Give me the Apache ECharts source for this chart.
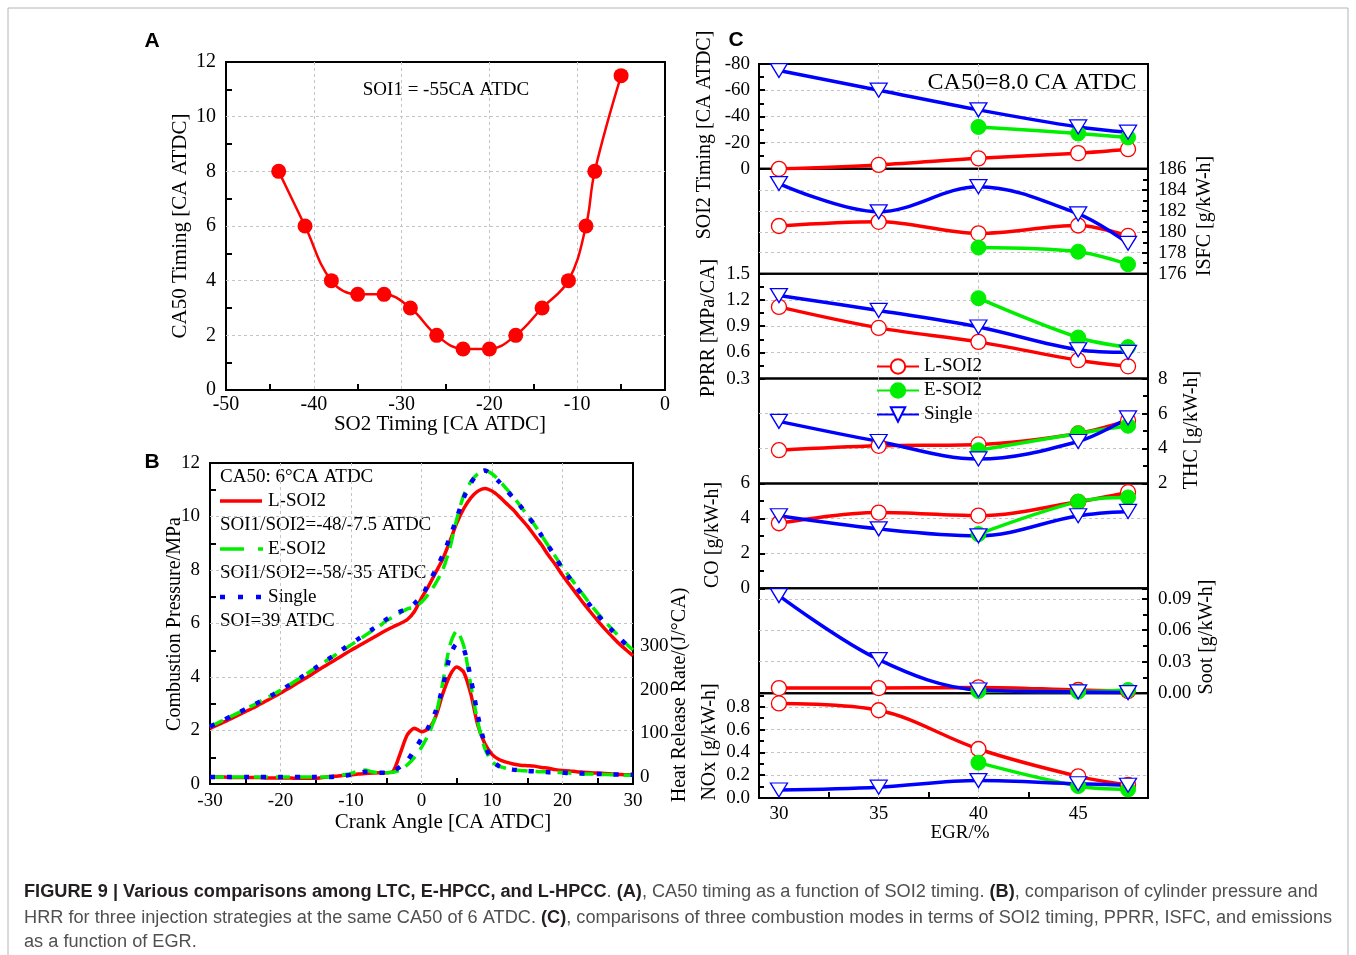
<!DOCTYPE html>
<html>
<head>
<meta charset="utf-8">
<script src="https://cdn.jsdelivr.net/npm/echarts@6.0.0/dist/echarts.min.js"></script>
<style>
  html, body { margin: 0; padding: 0; background: #fff; }
  #chart { width: 1356px; height: 955px; }
</style>
</head>
<body>
<div id="chart"></div>
<script>
// Fonts and colours used across the three panels
const SERIF = '"Liberation Serif", "Times New Roman", serif';
const SANS = '"Liberation Sans", Arial, Helvetica, sans-serif';
const RED = '#ff0000';
const GREEN = '#00ee00';
const BLUE = '#0000ff';

// ---- Panel A: CA50 timing vs SO2 timing
const so2Timing = [-44, -41, -38, -35, -32, -29, -26, -23, -20, -17, -14, -11, -9, -8, -5];
const ca50Timing = [8, 6, 4, 3.5, 3.5, 3, 2, 1.5, 1.5, 2, 3, 4, 6, 8, 11.5];

// ---- Panel B: cylinder pressure (MPa) and heat release rate (J/°CA), one value per °CA
const crankAngle = [
  -30, -29, -28, -27, -26, -25, -24, -23, -22, -21, -20, -19, -18, -17, -16, -15, -14, -13, -12, -11,
  -10, -9, -8, -7, -6, -5, -4, -3, -2, -1, 0, 1, 2, 3, 4, 5, 6, 7, 8, 9,
  10, 11, 12, 13, 14, 15, 16, 17, 18, 19, 20, 21, 22, 23, 24, 25, 26, 27, 28, 29, 30
];
const pressureL = [
  2.08, 2.2, 2.32, 2.44, 2.57, 2.7, 2.83, 2.97, 3.11, 3.25, 3.4, 3.55, 3.71, 3.87, 4.03, 4.2, 4.36, 4.52, 4.68, 4.84,
  5.0, 5.15, 5.3, 5.45, 5.6, 5.75, 5.88, 6.0, 6.15, 6.45, 6.95, 7.4, 7.9, 8.4, 9.05, 9.75, 10.3, 10.7, 10.95, 11.05,
  10.95, 10.75, 10.5, 10.25, 9.95, 9.65, 9.3, 8.95, 8.55, 8.2, 7.8, 7.45, 7.1, 6.75, 6.42, 6.1, 5.8, 5.52, 5.25, 5.02, 4.8
];
const pressureE = [
  2.15, 2.27, 2.4, 2.53, 2.66, 2.8, 2.93, 3.07, 3.21, 3.35, 3.5, 3.66, 3.83, 4.0, 4.17, 4.35, 4.52, 4.69, 4.86, 5.03,
  5.2, 5.37, 5.55, 5.73, 5.9, 6.1, 6.25, 6.4, 6.55, 6.62, 6.8, 7.1, 7.5, 8.0, 8.8, 9.9, 10.8, 11.3, 11.6, 11.72,
  11.6, 11.35, 11.05, 10.75, 10.4, 10.05, 9.7, 9.3, 8.9, 8.5, 8.1, 7.75, 7.4, 7.05, 6.7, 6.38, 6.08, 5.8, 5.52, 5.25, 5.0
];
const pressureS = [
  2.15, 2.27, 2.4, 2.53, 2.66, 2.8, 2.93, 3.07, 3.21, 3.35, 3.5, 3.66, 3.83, 4.0, 4.17, 4.35, 4.53, 4.71, 4.89, 5.07,
  5.25, 5.42, 5.6, 5.78, 5.95, 6.15, 6.3, 6.45, 6.55, 6.75, 7.0, 7.5, 8.0, 8.55, 9.2, 9.95, 10.7, 11.25, 11.6, 11.72,
  11.55, 11.3, 11.0, 10.7, 10.4, 10.05, 9.7, 9.3, 8.9, 8.48, 8.05, 7.7, 7.35, 7.0, 6.65, 6.32, 6.02, 5.75, 5.48, 5.22, 5.0
];
const hrrL = [
  0, 0, 0, -1, -1, -1, -1, -1, -2, -2, -2, -2, -3, -3, -3, -3, -1, 1, 2, 4,
  5, 7, 8, 9, 10, 10, 14, 55, 97, 112, 104, 111, 138, 190, 232, 252, 240, 190, 118, 76,
  52, 40, 34, 30, 27, 26, 25, 22, 20, 17, 15, 14, 12, 11, 10, 9, 8, 7, 6, 5, 5
];
const hrrE = [
  0, 0, 0, 0, 0, 0, 0, 0, 0, 0, 0, 0, 0, 0, 0, 0, 0, 0, 2, 5,
  8, 14, 16, 12, 10, 10, 11, 16, 28, 45, 68, 98, 140, 215, 300, 335, 300, 210, 125, 65,
  35, 25, 20, 17, 15, 14, 13, 12, 12, 11, 10, 9, 8, 7, 7, 6, 6, 5, 5, 4, 4
];
const hrrS = [
  0, 0, 0, 0, 0, 0, 0, 0, 0, 0, 0, 0, 0, 0, 0, 0, 0, 0, 1, 3,
  5, 8, 12, 11, 10, 10, 14, 24, 38, 62, 88, 115, 150, 205, 275, 305, 293, 225, 140, 75,
  38, 25, 20, 17, 15, 14, 13, 12, 11, 11, 10, 9, 9, 8, 8, 7, 7, 6, 6, 5, 5
];
const hrrLabels = [0, 100, 200, 300];

// ---- Panel C: quantities vs EGR (%)
const egr = [30, 35, 40, 45, 47.5];
const egrE = [40, 45, 47.5];
const egrLabels = [30, 35, 40, 45];
const egrMinorTicks = [32.5, 37.5, 42.5, 47.5];

const soi2L = [0, -3, -8, -12, -15];
const soi2E = [-32, -27, -24];
const soi2S = [-75, -60, -45, -32, -28];

const isfcL = [180.55, 180.95, 179.85, 180.6, 179.6];
const isfcE = [178.5, 178.1, 176.9];
const isfcS = [184.6, 181.9, 184.3, 181.7, 178.9];

const pprrL = [1.12, 0.88, 0.72, 0.51, 0.44];
const pprrE = [1.22, 0.77, 0.66];
const pprrS = [1.25, 1.08, 0.89, 0.63, 0.6];

const thcL = [3.9, 4.15, 4.23, 4.86, 5.6];
const thcE = [3.9, 4.86, 5.3];
const thcS = [5.55, 4.4, 3.4, 4.4, 5.75];

const coL = [3.72, 4.33, 4.16, 4.95, 5.5];
const coE = [3.1, 4.96, 5.2];
const coS = [4.15, 3.4, 3.0, 4.15, 4.4];

const sootL = [0.0048, 0.0048, 0.0055, 0.003, 0.002];
const sootE = [0.002, 0.0015, 0.003];
const sootS = [0.093, 0.032, 0.003, 0.0012, 0.0005];

const noxL = [0.83, 0.77, 0.43, 0.19, 0.115];
const noxE = [0.31, 0.105, 0.075];
const noxS = [0.07, 0.095, 0.153, 0.125, 0.112];

const zip = (xs, ys) => xs.map((x, i) => [x, ys[i]]);

const tickLine = { color: '#000', width: 2 };
const dashed = {
  show: true, showMinLine: false, showMaxLine: false,
  lineStyle: { color: '#c4c4c4', width: 1, type: [3, 3] }
};
const noLine = { show: false, onZero: false };

// grid boxes: A, B, then seven stacked strips for C
const C_TOP = 64, C_H = (798 - 64) / 7;
const gridBoxes = [
  { left: 226, top: 62, width: 439, height: 328 },
  { left: 210, top: 463, width: 423, height: 321 }
];
for (let i = 0; i < 7; i++) {
  gridBoxes.push({ left: 759, top: C_TOP + i * C_H, width: 389, height: C_H });
}
const grids = gridBoxes.map(g => Object.assign({
  show: true, borderColor: '#000', borderWidth: 2,
  backgroundColor: 'transparent', containLabel: false, outerBoundsMode: 'none'
}, g));

// simple value axis with inward minor ticks only (panels A and B)
function minorAxis(gridIndex, min, max, interval, size, margin, extra) {
  return Object.assign({
    type: 'value', gridIndex, min, max, interval,
    axisLine: noLine,
    axisTick: { show: false, inside: true },
    minorTick: { show: true, splitNumber: 2, length: 6, lineStyle: tickLine },
    axisLabel: { fontFamily: SERIF, fontSize: size, color: '#000', margin },
    splitLine: dashed
  }, extra || {});
}

// EGR axis for each C strip
function egrAxis(i) {
  const bottom = i === 6;
  return {
    type: 'value', gridIndex: 2 + i, min: 29, max: 48.5,
    axisLine: noLine,
    axisTick: bottom
      ? { show: true, inside: true, length: 6, customValues: egrMinorTicks, lineStyle: tickLine }
      : { show: false, customValues: egrLabels },
    axisLabel: bottom
      ? { show: true, customValues: egrLabels, fontFamily: SERIF, fontSize: 19, color: '#000', margin: 7 }
      : { show: false },
    splitLine: bottom ? { show: false } : dashed
  };
}

// y axis of a C strip
function stripAxis(i, side, min, max, interval, fmt, inverse) {
  return {
    type: 'value', gridIndex: 2 + i, position: side, min, max, interval, inverse: !!inverse,
    axisLine: noLine,
    axisTick: { show: true, inside: true, length: 6, lineStyle: tickLine },
    minorTick: { show: true, splitNumber: 2, length: 5, lineStyle: tickLine },
    axisLabel: {
      fontFamily: SERIF, fontSize: 19, color: '#000', margin: side === 'left' ? 9 : 10,
      showMaxLabel: !(max === 0.1 || max === 0.92),
      formatter: fmt || undefined
    },
    splitLine: dashed
  };
}

const xAxes = [
  minorAxis(0, -50, 0, 10, 20, 5),
  minorAxis(1, -30, 30, 10, 19, 8)
];
for (let i = 0; i < 7; i++) xAxes.push(egrAxis(i));
// vertical grid lines for the bottom strip (its own ticks sit between them)
xAxes.push({
  type: 'value', gridIndex: 8, position: 'top', min: 29, max: 48.5,
  axisLine: noLine,
  axisTick: { show: false, customValues: egrLabels },
  axisLabel: { show: false },
  splitLine: dashed
});

const yAxes = [
  minorAxis(0, 0, 12, 2, 20, 10),
  minorAxis(1, 0, 12, 2, 19, 10),
  {
    type: 'value', gridIndex: 1, position: 'right', min: -16, max: 720,
    axisLine: noLine, axisTick: { show: false },
    axisLabel: { customValues: hrrLabels, fontFamily: SERIF, fontSize: 19, color: '#000', margin: 7 },
    splitLine: { show: false }
  },
  stripAxis(0, 'left', -80, 0, 20, null, true),
  stripAxis(1, 'right', 176, 186, 2),
  stripAxis(2, 'left', 0.3, 1.5, 0.3, v => v.toFixed(1)),
  stripAxis(3, 'right', 2, 8, 2),
  stripAxis(4, 'left', 0, 6, 2),
  stripAxis(5, 'right', 0, 0.1, 0.03, v => v.toFixed(2)),
  stripAxis(6, 'left', 0, 0.92, 0.2, v => v.toFixed(1))
];

const series = [];

series.push({
  name: 'CA50', type: 'line', xAxisIndex: 0, yAxisIndex: 0,
  data: zip(so2Timing, ca50Timing), smooth: 0.4,
  symbol: 'circle', symbolSize: 15,
  lineStyle: { color: RED, width: 2.5 },
  itemStyle: { color: RED }
});

function curve(name, ys, yAxisIndex, color, type, width) {
  return {
    name, type: 'line', xAxisIndex: 1, yAxisIndex,
    data: zip(crankAngle, ys), smooth: 0.25,
    showSymbol: false, symbol: 'none',
    lineStyle: { color, width, type }
  };
}
series.push(curve('L-SOI2 p', pressureL, 1, RED, 'solid', 3.5));
series.push(curve('E-SOI2 p', pressureE, 1, GREEN, [14, 8], 3.5));
series.push(curve('Single p', pressureS, 1, BLUE, [5, 12], 4.5));
series.push(curve('L-SOI2 hrr', hrrL, 2, RED, 'solid', 3.5));
series.push(curve('E-SOI2 hrr', hrrE, 2, GREEN, [14, 8], 3.5));
series.push(curve('Single hrr', hrrS, 2, BLUE, [5, 12], 4.5));

function stripSeries(i, L, E, S) {
  const common = { type: 'line', xAxisIndex: 2 + i, yAxisIndex: 3 + i, smooth: 0.35 };
  return [
    Object.assign({
      name: 'L-SOI2', data: zip(egr, L), symbol: 'circle', symbolSize: 15,
      lineStyle: { color: RED, width: 3.5 },
      itemStyle: { color: '#fff', borderColor: RED, borderWidth: 1.3 }
    }, common),
    Object.assign({
      name: 'E-SOI2', data: zip(egrE, E), symbol: 'circle', symbolSize: 15,
      lineStyle: { color: GREEN, width: 3.5 },
      itemStyle: { color: GREEN, borderColor: GREEN, borderWidth: 1 }
    }, common),
    Object.assign({
      name: 'Single', data: zip(egr, S), symbol: 'triangle', symbolSize: [17, 14], symbolRotate: 180,
      lineStyle: { color: BLUE, width: 3.5 },
      itemStyle: { color: '#fff', borderColor: BLUE, borderWidth: 1.3 }
    }, common)
  ];
}
series.push(...stripSeries(0, soi2L, soi2E, soi2S));
series.push(...stripSeries(1, isfcL, isfcE, isfcS));
series.push(...stripSeries(2, pprrL, pprrE, pprrS));
series.push(...stripSeries(3, thcL, thcE, thcS));
series.push(...stripSeries(4, coL, coE, coS));
series.push(...stripSeries(5, sootL, sootE, sootS));
series.push(...stripSeries(6, noxL, noxE, noxS));

// text helper for graphic labels
function txt(text, x, y, size, opts) {
  opts = opts || {};
  const align = opts.align || 'center';
  return {
    type: 'text', x, y, rotation: opts.rot || 0, silent: true,
    style: {
      text, fontFamily: opts.family || SERIF, fontSize: size,
      fontWeight: opts.weight || 'normal', fill: opts.fill || '#000',
      textAlign: align, align, textVerticalAlign: 'middle', verticalAlign: 'middle'
    }
  };
}
const UP = Math.PI / 2;

function seg(x1, x2, y, color, width, dash) {
  return {
    type: 'line', silent: true,
    shape: { x1, y1: y, x2, y2: y },
    style: { stroke: color, lineWidth: width, lineDash: dash || null }
  };
}

const capRich = {
  b: { fontFamily: SANS, fontSize: 18, fontWeight: 'bold', fill: '#231f20' },
  n: { fontFamily: SANS, fontSize: 18, fill: '#505050' }
};
function caption(text, y) {
  return {
    type: 'text', x: 24, y, scaleX: 1.01, silent: true,
    style: { text, rich: capRich, textAlign: 'left', align: 'left', textVerticalAlign: 'middle', verticalAlign: 'middle' }
  };
}

const graphics = [
  { type: 'rect', silent: true, shape: { x: 8, y: 8, width: 1340, height: 990 },
    style: { fill: 'none', stroke: '#b4b4b4', lineWidth: 1 } },
  txt('A', 152, 41, 21, { family: SANS, weight: 'bold' }),
  txt('B', 152, 462, 21, { family: SANS, weight: 'bold' }),
  txt('C', 736, 40, 21, { family: SANS, weight: 'bold' }),

  // panel A
  txt('SOI1 = -55CA ATDC', 446, 90, 19),
  txt('CA50 Timing [CA ATDC]', 180, 226, 21, { rot: UP }),
  txt('SO2 Timing [CA ATDC]', 440, 424, 21),

  // panel B
  txt('Combustion Pressure/MPa', 175, 624, 20, { rot: UP }),
  txt('Heat Release Rate/(J/°CA)', 680, 695, 20, { rot: UP }),
  txt('Crank Angle [CA ATDC]', 443, 822, 21),
  txt('CA50: 6°CA ATDC', 220, 477, 19, { align: 'left' }),
  seg(220, 262, 501, RED, 3.5),
  txt('L-SOI2', 268, 501, 19, { align: 'left' }),
  txt('SOI1/SOI2=-48/-7.5 ATDC', 220, 525, 19, { align: 'left' }),
  seg(220, 263, 549, GREEN, 3.5, [24, 14]),
  txt('E-SOI2', 268, 549, 19, { align: 'left' }),
  txt('SOI1/SOI2=-58/-35 ATDC', 220, 573, 19, { align: 'left' }),
  seg(220, 262, 597, BLUE, 4.5, [5, 13]),
  txt('Single', 268, 597, 19, { align: 'left' }),
  txt('SOI=39 ATDC', 220, 621, 19, { align: 'left' }),

  // panel C
  txt('CA50=8.0 CA ATDC', 1032, 83, 24),
  txt('SOI2 Timing [CA ATDC]', 705, 135, 20, { rot: UP }),
  txt('PPRR [MPa/CA]', 709, 328, 20, { rot: UP }),
  txt('CO [g/kW-h]', 713, 535, 20, { rot: UP }),
  txt('NOx [g/kW-h]', 710, 742, 20, { rot: UP }),
  txt('ISFC [g/kW-h]', 1205, 216, 20, { rot: UP }),
  txt('THC [g/kW-h]', 1192, 430, 20, { rot: UP }),
  txt('Soot [g/kW-h]', 1207, 637, 20, { rot: UP }),
  txt('EGR/%', 960, 833, 19),

  // caption
  caption('{b|FIGURE 9 | Various comparisons among LTC, E-HPCC, and L-HPCC}{n|. }{b|(A)}{n|, CA50 timing as a function of SOI2 timing. }{b|(B)}{n|, comparison of cylinder pressure and}', 892),
  caption('{n|HRR for three injection strategies at the same CA50 of 6 ATDC. }{b|(C)}{n|, comparisons of three combustion modes in terms of SOI2 timing, PPRR, ISFC, and emissions}', 918),
  caption('{n|as a function of EGR.}', 942)
];

const chart = echarts.init(document.getElementById('chart'), null, { renderer: 'canvas' });
chart.setOption({
  animation: false,
  backgroundColor: '#fff',
  textStyle: { fontFamily: SERIF },
  grid: grids,
  xAxis: xAxes,
  yAxis: yAxes,
  legend: {
    data: ['L-SOI2', 'E-SOI2', 'Single'],
    orient: 'vertical', left: 876, top: 357,
    itemWidth: 42, itemHeight: 18, itemGap: 5, padding: 0,
    selectedMode: false,
    textStyle: { fontFamily: SERIF, fontSize: 19, color: '#000' }
  },
  series,
  graphic: { elements: graphics }
});
</script>
</body>
</html>
